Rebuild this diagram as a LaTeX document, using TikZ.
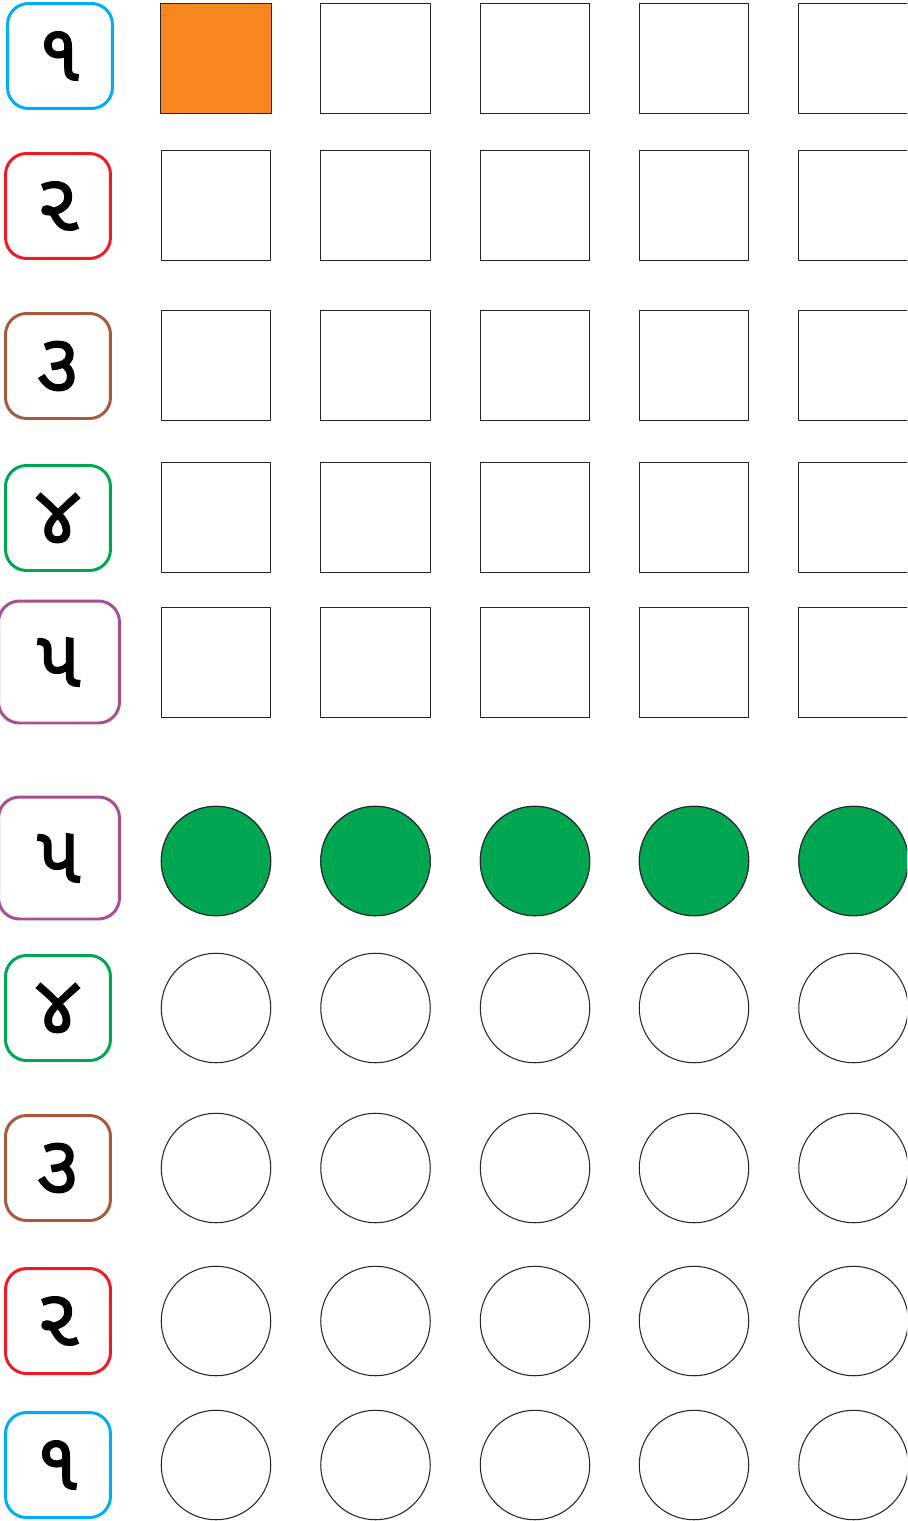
\documentclass[tikz,border=0pt]{standalone}
\usepackage{fontspec}
\newfontfamily\gujfont[Script=Gujarati, FakeBold=1.6]{Noto Sans Gujarati UI}
\definecolor{numblue}{HTML}{00AEEF}
\definecolor{numred}{HTML}{ED1C24}
\definecolor{numbrown}{HTML}{A65A3E}
\definecolor{numgreen}{HTML}{00A651}
\definecolor{numpurple}{HTML}{A84F90}
\definecolor{cellorange}{HTML}{F7861E}
\definecolor{cellgreen}{HTML}{00A651}
\tikzset{
  numbox/.style={draw, line width=1.7pt, rounded corners=0.42cm,
    minimum width=2.1cm, minimum height=2.1cm, inner sep=0pt,
    font=\gujfont\fontsize{46}{48}\selectfont},
  bignumbox/.style={numbox, minimum width=2.42cm, minimum height=2.44cm},
  cell/.style={draw=black!85, line width=0.6pt, minimum size=2.19cm, inner sep=0pt},
  dot/.style={cell, circle}
}
\begin{document}
\begin{tikzpicture}[x=0.02cm, y=-0.02cm]
  \useasboundingbox (0,0) rectangle (907,1521);
  \clip (0,0) rectangle (907,1521);

  % number labels, squares part
  \node[numbox, draw=numblue]     (sq1) at (60,56)   {૧};
  \node[numbox, draw=numred]      (sq2) at (58,206)  {૨};
  \node[numbox, draw=numbrown]    (sq3) at (58,366)  {૩};
  \node[numbox, draw=numgreen]    (sq4) at (58,518)  {૪};
  \node[bignumbox, draw=numpurple] (sq5) at (59,662) {૫};

  % number labels, circles part
  \node[bignumbox, draw=numpurple] (ci5) at (59,858) {૫};
  \node[numbox, draw=numgreen]    (ci4) at (58,1008) {૪};
  \node[numbox, draw=numbrown]    (ci3) at (58,1168) {૩};
  \node[numbox, draw=numred]      (ci2) at (58,1321) {૨};
  \node[numbox, draw=numblue]     (ci1) at (58,1465) {૧};

  % squares
  \foreach \y [count=\r] in {58.5,205.5,365.5,517.5,662.5}
    \foreach \x [count=\c] in {216,375.5,535,694,853.5}
      \node[cell] (s-\r-\c) at (\x,\y) {};
  \fill[cellorange] (s-1-1.south west) rectangle (s-1-1.north east);
  \draw[black!85, line width=0.6pt] (s-1-1.south west) rectangle (s-1-1.north east);

  % circles
  \foreach \y [count=\r] in {861,1008,1168,1321,1465}
    \foreach \x [count=\c] in {216,375.5,535,694,853.5}
      \node[dot] (d-\r-\c) at (\x,\y) {};
  \foreach \c in {1,...,5}
    \node[dot, fill=cellgreen] at (d-1-\c) {};
\end{tikzpicture}
\end{document}
